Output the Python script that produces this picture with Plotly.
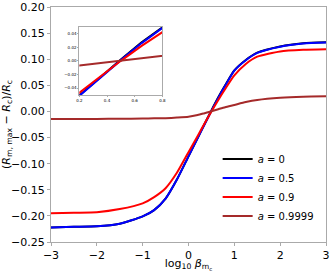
import plotly.graph_objects as go

x_log_beta = [-3, -2.5, -2, -1.5, -1, -0.75, -0.5, -0.25, 0, 0.2, 0.35, 0.5, 0.65, 0.8, 1, 1.25, 1.5, 2, 2.5, 3]

y_a0 = [-0.222, -0.221, -0.220, -0.215, -0.201, -0.189, -0.167, -0.130, -0.086, -0.051, -0.024, 0.002, 0.027, 0.050, 0.0785, 0.0985, 0.1125, 0.1245, 0.1305, 0.1325]
y_a05 = [-0.222, -0.221, -0.220, -0.215, -0.201, -0.189, -0.167, -0.130, -0.086, -0.051, -0.025, 0.001, 0.026, 0.049, 0.078, 0.098, 0.112, 0.124, 0.130, 0.132]
y_a09 = [-0.195, -0.194, -0.193, -0.187, -0.176, -0.164, -0.147, -0.117, -0.078, -0.047, -0.023, 0.000, 0.022, 0.043, 0.069, 0.091, 0.105, 0.115, 0.118, 0.119]
y_a09999 = [-0.0147, -0.0145, -0.0143, -0.014, -0.0135, -0.0132, -0.0128, -0.0118, -0.0102, -0.0068, -0.0033, 0.0003, 0.0043, 0.0082, 0.0125, 0.0180, 0.0220, 0.0262, 0.0283, 0.0290]

series = [
    ("<i>a</i> = 0", y_a0, "black"),
    ("<i>a</i> = 0.5", y_a05, "#0000ff"),
    ("<i>a</i> = 0.9", y_a09, "#ff0000"),
    ("<i>a</i> = 0.9999", y_a09999, "#a52a2a"),
]

x_ticks = [-3, -2, -1, 0, 1, 2, 3]
y_ticks = [0.20, 0.15, 0.10, 0.05, 0.00, -0.05, -0.10, -0.15, -0.20, -0.25]
inset_x_ticks = [0.2, 0.4, 0.6, 0.8]
inset_y_ticks = [-0.04, -0.02, 0.00, 0.02, 0.04]

fig = go.Figure()
for name, ys, col in series:
    fig.add_trace(go.Scatter(x=x_log_beta, y=ys, mode="lines", name=name,
                             line=dict(color=col, width=2, shape="spline", smoothing=0.6),
                             xaxis="x", yaxis="y"))
for name, ys, col in series:
    fig.add_trace(go.Scatter(x=x_log_beta, y=ys, mode="lines", name=name, showlegend=False,
                             line=dict(color=col, width=2),
                             xaxis="x2", yaxis="y2"))

font = "DejaVu Sans, sans-serif"
fig.update_layout(
    width=332, height=272,
    margin=dict(l=51, r=6, t=7, b=30),
    plot_bgcolor="white", paper_bgcolor="white",
    font=dict(family=font, size=11, color="black"),
    showlegend=True,
    legend=dict(x=0.606, y=0.415, xanchor="left", yanchor="top", bgcolor="rgba(0,0,0,0)",
                font=dict(size=10), tracegroupgap=0, itemwidth=30),
    xaxis=dict(domain=[0, 1], range=[-3.0001, 3.0001], tickvals=x_ticks, ticks="outside", ticklen=3,
               showgrid=False, zeroline=False, showline=True, mirror=True, linecolor="#aaaaaa",
               tickcolor="#aaaaaa", automargin=False, tickfont=dict(size=11),
               title=dict(text="log<sub>10</sub> <i>β</i><sub>m<sub>c</sub></sub>", standoff=0, font=dict(size=11))),
    yaxis=dict(domain=[0, 1], range=[-0.25, 0.20], tickvals=y_ticks, tickformat=".2f", ticks="outside", ticklen=3,
               showgrid=False, zeroline=False, showline=True, mirror=True, linecolor="#aaaaaa",
               tickcolor="#aaaaaa", automargin=False, tickfont=dict(size=11),
               title=dict(text="(<i>R</i><sub>m, max</sub> − <i>R</i><sub>c</sub>)/<i>R</i><sub>c</sub>", standoff=3, font=dict(size=11))),
    xaxis2=dict(domain=[0.103, 0.405], range=[0.2, 0.8], tickvals=inset_x_ticks, tickformat=".1f",
                ticks="outside", ticklen=1, anchor="y2", tickfont=dict(size=4), automargin=False,
                showgrid=False, zeroline=False, showline=True, mirror=True, linecolor="#aaaaaa", tickcolor="#aaaaaa"),
    yaxis2=dict(domain=[0.626, 0.916], range=[-0.05, 0.05], tickvals=inset_y_ticks, tickformat=".2f",
                ticks="outside", ticklen=1, anchor="x2", tickfont=dict(size=4), automargin=False,
                showgrid=False, zeroline=False, showline=True, mirror=True, linecolor="#aaaaaa", tickcolor="#aaaaaa"),
)

fig.write_html("out.html", config={"displayModeBar": False},
               post_script="document.body.style.margin='0';document.body.style.overflow='hidden';")
